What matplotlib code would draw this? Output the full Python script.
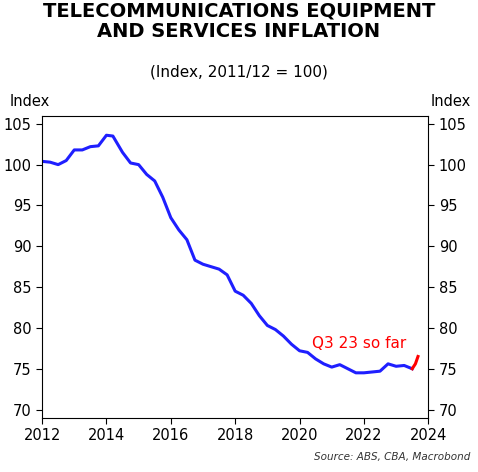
import matplotlib
matplotlib.use("Agg")
import matplotlib.pyplot as plt
import numpy as np

years = [2012.0, 2012.25, 2012.5, 2012.75, 2013.0, 2013.25, 2013.5, 2013.75, 2014.0, 2014.2,
         2014.5, 2014.75, 2015.0, 2015.25, 2015.5, 2015.75, 2016.0, 2016.25, 2016.5, 2016.75,
         2017.0, 2017.25, 2017.5, 2017.75, 2018.0, 2018.25, 2018.5, 2018.75, 2019.0, 2019.25,
         2019.5, 2019.75, 2020.0, 2020.25, 2020.5, 2020.75, 2021.0, 2021.25, 2021.5, 2021.75,
         2022.0, 2022.25, 2022.5, 2022.75, 2023.0, 2023.25, 2023.5]
index = [100.4, 100.3, 100.0, 100.5, 101.8, 101.8, 102.2, 102.3, 103.6, 103.5,
         101.5, 100.2, 100.0, 98.8, 98.0, 96.0, 93.5, 92.0, 90.8, 88.3,
         87.8, 87.5, 87.2, 86.5, 84.5, 84.0, 83.0, 81.5, 80.3, 79.8,
         79.0, 78.0, 77.2, 77.0, 76.2, 75.6, 75.2, 75.5, 75.0, 74.5,
         74.5, 74.6, 74.7, 75.6, 75.3, 75.4, 75.0]
q3_years = [2023.5, 2023.6, 2023.68]
q3_index = [75.0, 75.6, 76.5]

fig = plt.figure(figsize=(4.78, 4.72), dpi=100)
ax = fig.add_axes([0.088, 0.115, 0.808, 0.64])
ax.plot(years, index, color="#1f1fff", lw=2.2)
ax.plot(q3_years, q3_index, color="#ff0000", lw=2.2)
ax.set_xlim(2012, 2024)
ax.set_ylim(69, 106)
ax.set_xticks(range(2012, 2025, 2))
ax.set_yticks(range(70, 106, 5))
ax.tick_params(labelsize=10.5, direction="out", length=4, right=True, labelright=True)
ax.text(2023.3, 77.6, "Q3 23 so far", color="#ff0000", fontsize=11, ha="right")
fig.text(0.5, 0.955, "TELECOMMUNICATIONS EQUIPMENT\nAND SERVICES INFLATION", ha="center", va="center",
         fontsize=14, fontweight="bold", linespacing=1.1)
fig.text(0.5, 0.838, "(Index, 2011/12 = 100)", ha="center", fontsize=11)
fig.text(0.02, 0.775, "Index", fontsize=10.5)
fig.text(0.985, 0.775, "Index", fontsize=10.5, ha="right")
fig.text(0.985, 0.025, "Source: ABS, CBA, Macrobond", fontsize=7.5, style="italic", ha="right", color="#333333")
fig.savefig("out.png", dpi=100)
